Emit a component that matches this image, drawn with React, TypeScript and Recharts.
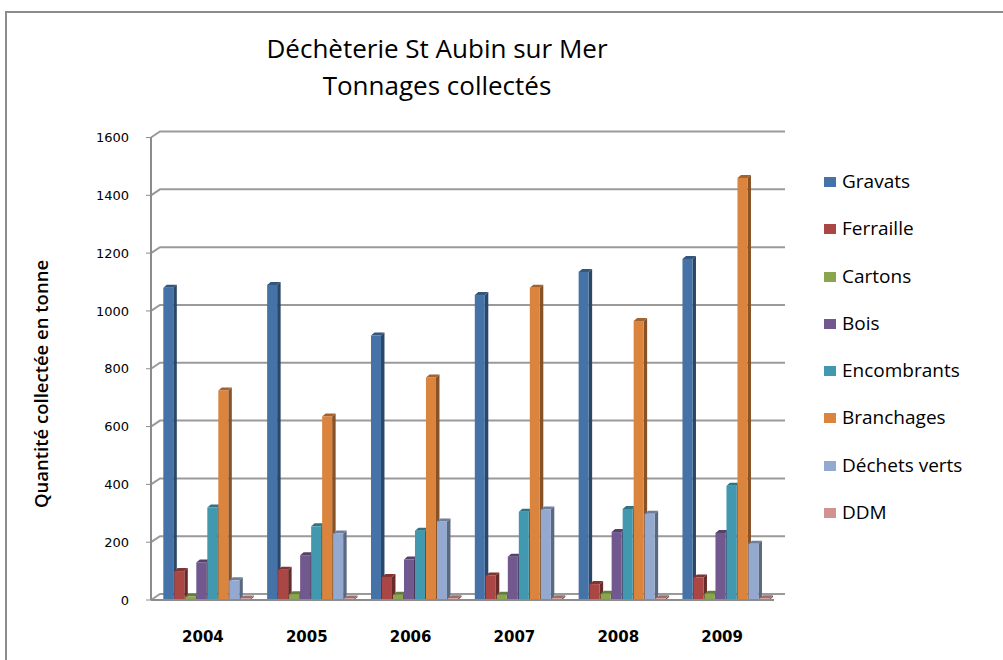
import React from "react";
import { BarChart, Bar, XAxis, YAxis, CartesianGrid } from "recharts";

// tonnages per year
const years = ["2004", "2005", "2006", "2007", "2008", "2009"];
const gravats = [1080, 1090, 915, 1055, 1135, 1180];
const ferraille = [100, 105, 80, 85, 55, 78];
const cartons = [12, 20, 18, 18, 22, 22];
const bois = [130, 155, 140, 150, 235, 232];
const encombrants = [320, 255, 240, 305, 315, 395];
const branchages = [725, 635, 770, 1080, 965, 1460];
const dechetsVerts = [68, 230, 272, 313, 298, 195];
const ddm = [5, 5, 6, 6, 6, 6];

const yTicks = [0, 200, 400, 600, 800, 1000, 1200, 1400, 1600];

const seriesNames = [
  "Gravats",
  "Ferraille",
  "Cartons",
  "Bois",
  "Encombrants",
  "Branchages",
  "Déchets verts",
  "DDM",
];
const seriesValues = [gravats, ferraille, cartons, bois, encombrants, branchages, dechetsVerts, ddm];
const seriesColors = ["#4572a7", "#aa4643", "#89a54e", "#71588f", "#4198af", "#db843d", "#93a9cf", "#d19392"];

const data = years.map((year, i) => {
  const row: Record<string, string | number> = { year };
  seriesNames.forEach((name, s) => {
    row[name] = seriesValues[s][i];
  });
  return row;
});

const FONT = "'Open Sans', 'Noto Sans', sans-serif";

function shade(hex: string, f: number) {
  const n = parseInt(hex.slice(1), 16);
  const r = Math.round(((n >> 16) & 255) * f);
  const g = Math.round(((n >> 8) & 255) * f);
  const b = Math.round((n & 255) * f);
  return `rgb(${Math.min(r, 255)},${Math.min(g, 255)},${Math.min(b, 255)})`;
}

// column with a small 3d side and top; the side hides behind the next column
const Column3D = (props: any) => {
  const { x, y, width, height, fill } = props;
  if (height == null || width == null) return null;
  const d = 3.5;
  const dy = 3;
  const fx = x + 4;
  const fw = width - 1;
  const h = Math.max(height, 0);
  return (
    <g>
      <polygon
        points={`${fx + fw},${y} ${fx + fw + d},${y - dy} ${fx + fw + d},${y + h - dy} ${fx + fw},${y + h}`}
        fill={shade(fill, 0.62)}
      />
      <polygon
        points={`${fx},${y} ${fx + d},${y - dy} ${fx + fw + d},${y - dy} ${fx + fw},${y}`}
        fill={shade(fill, 0.75)}
      />
      <rect x={fx} y={y} width={fw} height={h} fill={fill} />
    </g>
  );
};

// back wall gridline with the little diagonal from the front axis
const GridLine = (props: any) => {
  const { x1, y1, x2 } = props;
  return (
    <polyline
      points={`${x1},${y1} ${x1 + 9},${y1 - 6} ${x2 + 11},${y1 - 6}`}
      fill="none"
      stroke="#9a9a9a"
      strokeWidth={2}
    />
  );
};

const YearTick = (props: any) => {
  const { x, y, payload } = props;
  return (
    <text
      x={x}
      y={y + 34}
      textAnchor="middle"
      fontFamily="'DejaVu Sans', sans-serif"
      fontWeight="bold"
      fontSize={15}
      fill="#000"
    >
      {payload.value}
    </text>
  );
};

export default function App() {
  return (
    <div style={{ position: "absolute", left: 0, top: 0, width: 1003, height: 660, background: "#fff", overflow: "hidden" }}>
      <div
        style={{
          position: "absolute",
          left: 5,
          top: 11,
          width: 1100,
          height: 700,
          borderLeft: "2px solid #8c8c8c",
          borderTop: "2px solid #8c8c8c",
        }}
      />

      <div style={{ position: "absolute", left: 0, top: 30, width: 874, textAlign: "center", fontFamily: FONT, fontSize: 26, lineHeight: "37px", color: "#000" }}>
        Déchèterie St Aubin sur Mer
        <br />
        Tonnages collectés
      </div>

      <div
        style={{
          position: "absolute",
          left: 40,
          top: 384,
          transform: "translate(-50%, -50%) rotate(-90deg)",
          whiteSpace: "nowrap",
          fontFamily: FONT,
          fontSize: 18.5,
          fontWeight: 600,
          color: "#000",
        }}
      >
        Quantité collectée en tonne
      </div>

      <div style={{ position: "absolute", left: 0, top: 0 }}>
        <BarChart
          width={1003}
          height={660}
          data={data}
          margin={{ top: 137.5, right: 229, bottom: 0, left: 91 }}
          barCategoryGap="8%"
          barGap={0}
        >
          <CartesianGrid vertical={false} horizontal={(p: any) => <GridLine key={`g-${p.y1}`} {...p} />} />
          <XAxis
            dataKey="year"
            height={60}
            axisLine={{ stroke: "#8c8c8c", strokeWidth: 2 }}
            tickLine={false}
            tick={<YearTick />}
          />
          <YAxis
            width={60}
            domain={[0, 1600]}
            ticks={yTicks}
            interval={0}
            axisLine={{ stroke: "#8c8c8c", strokeWidth: 2 }}
            tickLine={{ stroke: "#8c8c8c" }}
            tickSize={5}
            tickMargin={17}
            tick={{ fontFamily: "'DejaVu Sans', sans-serif", fontSize: 13, fill: "#000" }}
          />
          {seriesNames.map((name, s) => (
            <Bar key={name} dataKey={name} fill={seriesColors[s]} shape={<Column3D />} isAnimationActive={false} />
          ))}
        </BarChart>
      </div>

      <div style={{ position: "absolute", left: 824, top: 170 }}>
        {seriesNames.map((name, s) => (
          <div key={name} style={{ position: "relative", height: 47.3, fontFamily: FONT, fontSize: 19, color: "#000" }}>
            <span style={{ position: "absolute", left: 0, top: 7, width: 12, height: 10, background: seriesColors[s] }} />
            <span style={{ position: "absolute", left: 18, top: -2, whiteSpace: "nowrap" }}>{name}</span>
          </div>
        ))}
      </div>
    </div>
  );
}
